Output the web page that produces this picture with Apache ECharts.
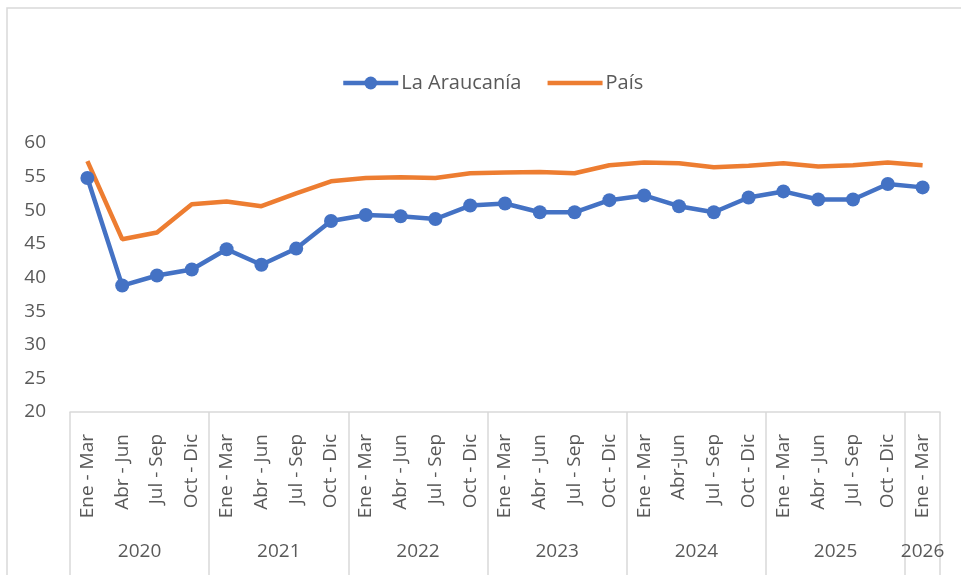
<!DOCTYPE html>
<html>
<head>
<meta charset="utf-8">
<script src="https://cdn.jsdelivr.net/npm/echarts@6/dist/echarts.min.js"></script>
<style>
  html, body { margin: 0; padding: 0; background: #fff; }
  #chart { width: 961px; height: 575px; }
</style>
</head>
<body>
<div id="chart"></div>
<script>
  // trimestres (eje principal) y años (eje agrupado)
  const quarters = [
    'Ene - Mar', 'Abr - Jun', 'Jul - Sep', 'Oct - Dic',
    'Ene - Mar', 'Abr - Jun', 'Jul - Sep', 'Oct - Dic',
    'Ene - Mar', 'Abr - Jun', 'Jul - Sep', 'Oct - Dic',
    'Ene - Mar', 'Abr - Jun', 'Jul - Sep', 'Oct - Dic',
    'Ene - Mar', 'Abr-Jun', 'Jul - Sep', 'Oct - Dic',
    'Ene - Mar', 'Abr - Jun', 'Jul - Sep', 'Oct - Dic',
    'Ene - Mar'
  ];
  const years = ['2020', '2021', '2022', '2023', '2024', '2025', '2026'];
  const yearCenters = [1.5, 5.5, 9.5, 13.5, 17.5, 21.5, 24];
  const yearBounds = [-0.5, 3.5, 7.5, 11.5, 15.5, 19.5, 23.5, 24.5];

  const araucania = [54.8, 38.8, 40.3, 41.2, 44.2, 41.9, 44.3, 48.4, 49.3, 49.1, 48.7, 50.7, 51.0,
    49.7, 49.7, 51.5, 52.2, 50.6, 49.7, 51.9, 52.8, 51.6, 51.6, 53.9, 53.4];
  const pais = [57.3, 45.7, 46.7, 50.9, 51.3, 50.6, 52.5, 54.3, 54.8, 54.9, 54.8, 55.5, 55.6,
    55.7, 55.5, 56.7, 57.1, 57.0, 56.4, 56.6, 57.0, 56.5, 56.7, 57.1, 56.7];

  const FONT = 'Open Sans';
  const TXT = '#595959';
  const LINE = '#d9d9d9';

  const chart = echarts.init(document.getElementById('chart'));
  chart.setOption({
    animation: false,
    textStyle: { fontFamily: FONT },
    graphic: [{
      type: 'rect',
      shape: { x: 7, y: 8, width: 1000, height: 600 },
      style: { fill: 'none', stroke: LINE, lineWidth: 1.5 },
      silent: true
    }],
    legend: {
      top: 68,
      left: 336,
      itemWidth: 55,
      itemHeight: 16,
      itemGap: 24,
      lineStyle: { width: 4.5 },
      textStyle: { fontSize: 20, color: TXT, fontFamily: FONT, padding: [0, 0, 0, -2] },
      data: [
        { name: 'La Araucanía' },
        { name: 'País', itemStyle: { opacity: 0 } }
      ]
    },
    grid: { left: 70, right: 21, top: 143, bottom: 163 },
    xAxis: [
      {
        type: 'category',
        data: quarters,
        boundaryGap: true,
        axisLine: { lineStyle: { color: LINE, width: 1.5 } },
        axisTick: { show: false },
        axisLabel: {
          rotate: 90,
          interval: 0,
          margin: 22,
          fontSize: 19,
          color: TXT,
          fontFamily: FONT
        },
        splitLine: { show: false }
      },
      {
        type: 'value',
        position: 'bottom',
        min: -0.5,
        max: 24.5,
        axisLine: { show: false },
        axisTick: {
          show: true,
          customValues: yearBounds,
          length: 165,
          lineStyle: { color: LINE, width: 1.5 }
        },
        axisLabel: {
          customValues: yearCenters,
          margin: 130,
          fontSize: 19,
          color: TXT,
          fontFamily: FONT,
          formatter: function (v) {
            const i = yearCenters.indexOf(v);
            return i >= 0 ? years[i] : '';
          }
        },
        splitLine: { show: false }
      }
    ],
    yAxis: {
      type: 'value',
      min: 20,
      max: 60,
      interval: 5,
      axisLine: { show: false },
      axisTick: { show: false },
      splitLine: { show: false },
      axisLabel: { fontSize: 19, color: TXT, fontFamily: FONT, margin: 24 }
    },
    series: [
      {
        name: 'La Araucanía',
        type: 'line',
        data: araucania,
        symbol: 'circle',
        symbolSize: 14,
        lineStyle: { color: '#4472C4', width: 4.5 },
        itemStyle: { color: '#4472C4' }
      },
      {
        name: 'País',
        type: 'line',
        data: pais,
        symbol: 'none',
        lineStyle: { color: '#ED7D31', width: 4.5 },
        itemStyle: { color: '#ED7D31' }
      }
    ]
  });
</script>
</body>
</html>
